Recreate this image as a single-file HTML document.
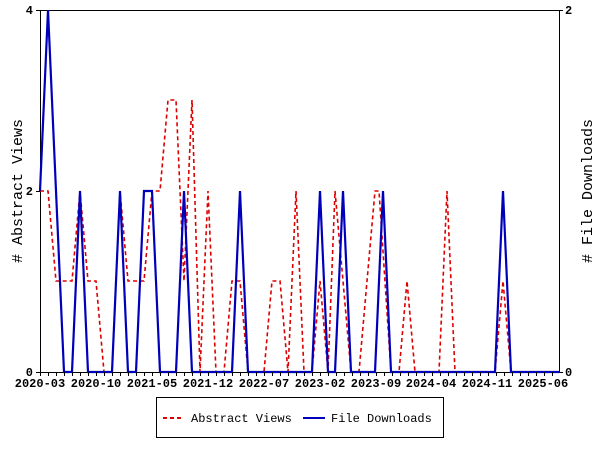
<!DOCTYPE html>
<html><head><style>body{margin:0;background:#fff}svg{display:block}</style></head><body>
<svg width="600" height="450" xmlns="http://www.w3.org/2000/svg" font-family="Liberation Mono, monospace" font-weight="bold">
<rect width="600" height="450" fill="#fff"/>
<g stroke="#000" stroke-width="1" fill="none">
<line x1="40" y1="10.5" x2="559" y2="10.5"/>
<line x1="40.5" y1="10" x2="40.5" y2="372"/>
<line x1="559.5" y1="10" x2="559.5" y2="372"/>
<line x1="40" y1="372.5" x2="559" y2="372.5"/>
<line x1="36" y1="10.5" x2="40" y2="10.5"/><line x1="36" y1="191.5" x2="40" y2="191.5"/><line x1="36" y1="372.5" x2="40" y2="372.5"/>
<line x1="559" y1="10.5" x2="563" y2="10.5"/><line x1="559" y1="372.5" x2="563" y2="372.5"/>
</g>
<g font-size="12" fill="#000">
<text x="33" y="14" text-anchor="end">4</text>
<text x="33" y="195" text-anchor="end">2</text>
<text x="33" y="376" text-anchor="end">0</text>
<text x="565" y="14">2</text>
<text x="565" y="376">0</text>
<g text-anchor="middle">
<text x="40" y="387">2020-03</text><text x="96" y="387">2020-10</text><text x="152" y="387">2021-05</text><text x="208" y="387">2021-12</text><text x="264" y="387">2022-07</text><text x="320" y="387">2023-02</text><text x="376" y="387">2023-09</text><text x="431" y="387">2024-04</text><text x="487" y="387">2024-11</text><text x="543" y="387">2025-06</text>
</g>
</g>
<g font-size="15" font-weight="normal" fill="#000" text-anchor="middle">
<text transform="translate(22,191) rotate(-90)"># Abstract Views</text>
<text transform="translate(592,191) rotate(-90)"># File Downloads</text>
</g>
<polyline fill="none" stroke="#d00" stroke-width="1.6" stroke-dasharray="4,3" points="40,191 48,191 56,281 64,281 72,281 80,191 88,281 96,281 104,372 112,372 120,191 128,281 136,281 144,281 152,191 160,191 168,100 176,100 184,281 192,100 200,372 208,191 216,372 224,372 232,281 240,281 248,372 256,372 264,372 272,281 280,281 288,372 296,191 304,372 312,372 320,281 328,372 335,191 343,281 351,372 359,372 367,281 375,191 379,191 391,372 399,372 407,281 415,372 423,372 431,372 439,372 447,191 455,372 463,372 471,372 479,372 487,372 495,372 503,281 511,372 559,372"/>
<polyline fill="none" stroke="#00b" stroke-width="2.2" points="40,191 48,10 56,191 64,372 72,372 80,191 88,372 96,372 104,372 112,372 120,191 128,372 136,372 144,191 152,191 160,372 168,372 176,372 184,191 192,372 200,372 208,372 216,372 224,372 232,372 240,191 248,372 256,372 264,372 272,372 280,372 288,372 296,372 304,372 312,372 320,191 328,372 335,372 343,191 351,372 359,372 367,372 375,372 383,191 391,372 399,372 495,372 503,191 511,372 559,372"/>
<g stroke="#000" stroke-width="1">
<path d="M40.5 372v4M48.5 372v4M56.5 372v4M64.5 372v4M72.5 372v4M80.5 372v4M88.5 372v4M96.5 372v4M104.5 372v4M112.5 372v4M120.5 372v4M128.5 372v4M136.5 372v4M144.5 372v4M152.5 372v4M160.5 372v4M168.5 372v4M176.5 372v4M184.5 372v4M192.5 372v4M200.5 372v4M208.5 372v4M216.5 372v4M224.5 372v4M232.5 372v4M240.5 372v4M248.5 372v4M256.5 372v4M264.5 372v4M272.5 372v4M280.5 372v4M288.5 372v4M296.5 372v4M304.5 372v4M312.5 372v4M320.5 372v4M328.5 372v4M336.5 372v4M344.5 372v4M352.5 372v4M360.5 372v4M368.5 372v4M376.5 372v4M384.5 372v4M392.5 372v4M400.5 372v4M408.5 372v4M416.5 372v4M424.5 372v4M432.5 372v4M440.5 372v4M448.5 372v4M456.5 372v4M464.5 372v4M472.5 372v4M480.5 372v4M488.5 372v4M496.5 372v4M504.5 372v4M512.5 372v4M520.5 372v4M528.5 372v4M536.5 372v4M544.5 372v4M552.5 372v4"/>
</g>
<rect x="156.5" y="397.5" width="287" height="40" fill="none" stroke="#000"/>
<line x1="163" y1="418" x2="183" y2="418" stroke="#d00" stroke-width="2" stroke-dasharray="4,3"/>
<line x1="303" y1="418" x2="325" y2="418" stroke="#00b" stroke-width="2"/>
<g font-size="12" font-weight="normal" fill="#000">
<text x="191" y="422">Abstract Views</text>
<text x="331" y="422">File Downloads</text>
</g>
</svg>
</body></html>
